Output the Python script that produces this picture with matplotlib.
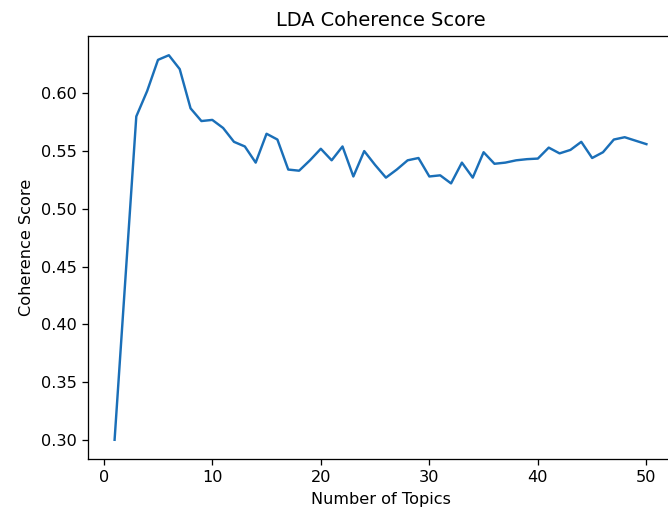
import matplotlib
matplotlib.use("Agg")
import matplotlib.pyplot as plt

num_topics = list(range(1, 51))
coherence = [
    0.300, 0.440, 0.580, 0.602, 0.629, 0.633, 0.621, 0.587, 0.576, 0.577,
    0.570, 0.558, 0.554, 0.540, 0.565, 0.560, 0.534, 0.533, 0.542, 0.552,
    0.542, 0.554, 0.528, 0.550, 0.538, 0.527, 0.534, 0.542, 0.544, 0.528,
    0.529, 0.522, 0.540, 0.527, 0.549, 0.539, 0.540, 0.542, 0.543, 0.5435,
    0.553, 0.548, 0.551, 0.558, 0.544, 0.549, 0.560, 0.562, 0.559, 0.556,
]

DPI = 116
fig = plt.figure(figsize=(668 / DPI, 511 / DPI), dpi=DPI)
ax = fig.add_axes([88 / 668, (511 - 459) / 511, 585 / 668, 423 / 511])
ax.plot(num_topics, coherence, color="#1a6fb8")
ax.set_title("LDA Coherence Score")
ax.set_xlabel("Number of Topics")
ax.set_ylabel("Coherence Score")
ax.spines["right"].set_visible(False)
fig.savefig("out.png", dpi=DPI)
